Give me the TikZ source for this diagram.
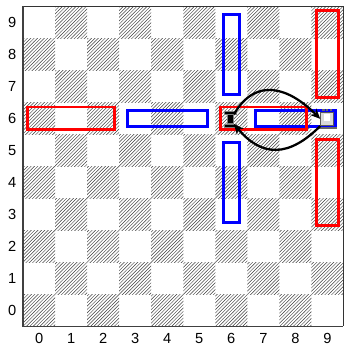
\documentclass[tikz,border=0pt]{standalone}
\usepackage{fontspec}
\setmainfont{Liberation Sans}
\usetikzlibrary{arrows.meta,patterns,calc}

\begin{document}
\begin{tikzpicture}[x=1cm,y=1cm,
  redbar/.style={draw=red, line width=2.6pt},
  bluebar/.style={draw=blue, line width=2.6pt},
  hatch/.style={pattern=north east lines, pattern color=black!75},
  ticklbl/.style={font=\fontsize{13}{15}\selectfont, inner sep=0pt, text depth=0pt},
  blkrook/.style={fill=black, draw=gray, line width=0.6pt, minimum width=0.2cm, minimum height=0.28cm, inner sep=0pt},
  whtrook/.style={fill=gray!30, draw=black!65, line width=0.8pt, minimum width=0.4cm, minimum height=0.42cm, inner sep=0pt},
  move/.style={line width=2pt, -{Stealth[length=9pt,width=8pt]}, looseness=1.3}]
  \useasboundingbox (-0.72,-0.61) rectangle (10.0,10.19);

  % board
  \foreach \i in {0,...,9}
    \foreach \j in {0,...,9}{
      \pgfmathtruncatemacro{\odd}{mod(\i+\j,2)}
      \ifnum\odd=0 \fill[hatch] (\i,\j) rectangle ++(1,1); \fi
    }
  \draw[black!80, line width=0.5pt] (0,10) -- (10,10) -- (10,0);
  \draw[black!75, line width=1.2pt] (0,10) -- (0,0) -- (10,0);

  % axis labels
  \foreach \k in {0,...,9}{
    \node[ticklbl] (xl\k) at (\k+0.5,-0.37) {\k};
    \node[ticklbl] (yl\k) at (-0.34,\k+0.5) {\k};
  }

  % blue moves
  \draw[bluebar] (3.25,6.25) rectangle (5.75,6.75);
  \draw[bluebar] (7.25,6.25) rectangle (9.75,6.75);
  \draw[bluebar] (6.25,7.25) rectangle (6.75,9.75);
  \draw[bluebar] (6.25,3.25) rectangle (6.75,5.75);

  % red moves
  \draw[redbar] (0.15,6.15) rectangle (2.85,6.85);
  \draw[redbar] (6.15,6.15) rectangle (8.85,6.85);
  \draw[redbar] (9.15,7.15) rectangle (9.85,9.85);
  \draw[redbar] (9.15,3.15) rectangle (9.85,5.85);

  % black rook
  \node[blkrook] (blk) at (6.47,6.47) {};
  \filldraw[fill=black, draw=gray, line width=0.6pt] ($(blk.north west)+(-0.07,0)$) rectangle ($(blk.north east)+(0.07,0.09)$);
  \filldraw[fill=black, draw=gray, line width=0.6pt] ($(blk.south west)+(-0.07,-0.09)$) rectangle ($(blk.south east)+(0.07,0)$);

  % white rook
  \node[whtrook] (wht) at (9.49,6.48) {};
  \fill[white] ($(wht.center)+(-0.1,-0.06)$) rectangle ++(0.2,0.2);
  \foreach \dx in {-0.12,0,0.12}
    \fill[black!60] ($(wht.north)+(\dx-0.04,0.02)$) rectangle ++(0.08,0.07);
  \fill[black!60] ($(wht.south west)+(-0.04,-0.1)$) rectangle ($(wht.south east)+(0.1,-0.03)$);

  % swaps
  \draw[move] (blk.north east) to[out=60,in=135] (wht.west);
  \draw[move] (wht.south west) to[out=-135,in=-50] (blk.south east);
\end{tikzpicture}
\end{document}
